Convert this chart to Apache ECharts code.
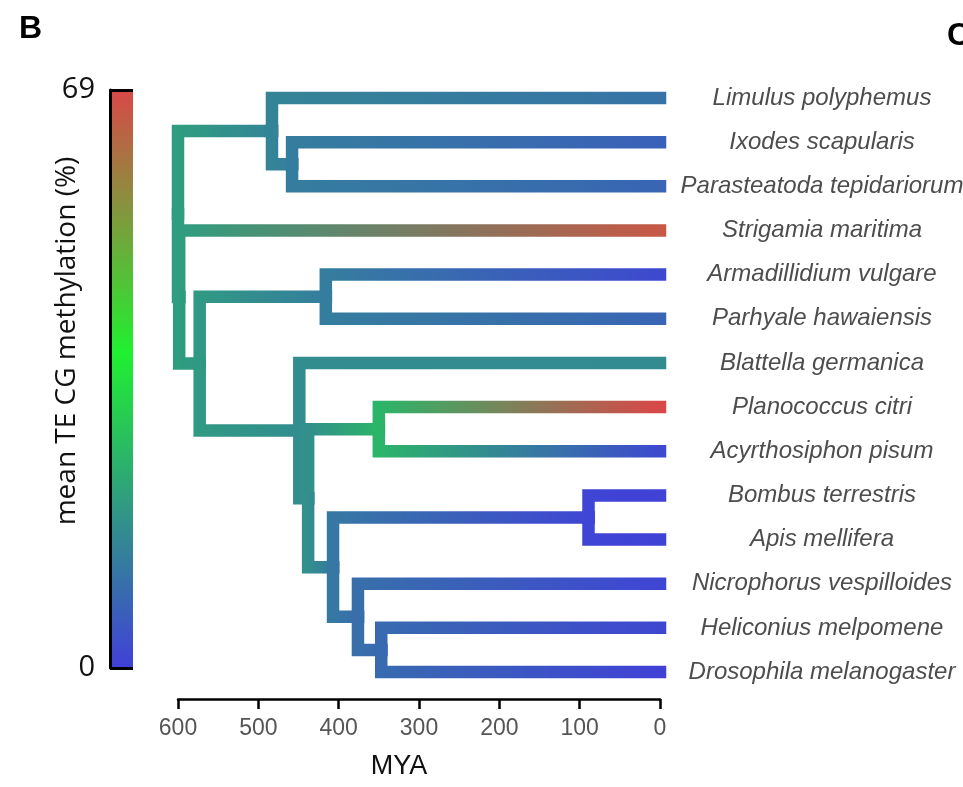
<!DOCTYPE html>
<html>
<head>
<meta charset="utf-8">
<script src="https://cdn.jsdelivr.net/npm/echarts@6/dist/echarts.min.js"></script>
<style>
  html, body {margin: 0; padding: 0; background: #fff;}
  #chart {width: 963px; height: 787px;}
</style>
</head>
<body>
<div id="chart"></div>
<script>
// tips, top to bottom
const species = [
  'Limulus polyphemus', 'Ixodes scapularis', 'Parasteatoda tepidariorum',
  'Strigamia maritima', 'Armadillidium vulgare', 'Parhyale hawaiensis',
  'Blattella germanica', 'Planococcus citri', 'Acyrthosiphon pisum',
  'Bombus terrestris', 'Apis mellifera', 'Nicrophorus vespilloides',
  'Heliconius melpomene', 'Drosophila melanogaster',
]
const tipMeth = [11, 7, 8, 66, 2, 8, 16, 69, 2, 0.5, 0.5, 1, 1.5, 0.5]

// internal nodes (MYA + inferred methylation)
const cladeNames = [
  'root', 'Chelicerata', 'Arachnida', 'Mandibulata', 'Pancrustacea', 'Crustacea',
  'Hexapoda', 'Eumetabola', 'Hemiptera', 'Holometabola', 'Hymenoptera',
  'ColeoMecopterida', 'Mecopterida',
]
const cladeAge = [600, 483, 458, 598.5, 573, 416, 449, 438, 350, 407, 89, 376, 347]
const cladeMeth = [20, 14.5, 13, 20, 19, 13, 16.5, 17, 25, 12, 1, 10, 9]
const cladeKids = [
  ['Chelicerata', 'Mandibulata'],
  ['Limulus polyphemus', 'Arachnida'],
  ['Ixodes scapularis', 'Parasteatoda tepidariorum'],
  ['Strigamia maritima', 'Pancrustacea'],
  ['Crustacea', 'Hexapoda'],
  ['Armadillidium vulgare', 'Parhyale hawaiensis'],
  ['Blattella germanica', 'Eumetabola'],
  ['Hemiptera', 'Holometabola'],
  ['Planococcus citri', 'Acyrthosiphon pisum'],
  ['Hymenoptera', 'ColeoMecopterida'],
  ['Bombus terrestris', 'Apis mellifera'],
  ['Nicrophorus vespilloides', 'Mecopterida'],
  ['Heliconius melpomene', 'Drosophila melanogaster'],
]

const ageTicks = [600, 500, 400, 300, 200, 100, 0]
const methMax = 69

// colour scale blue -> green -> red
const cmap = [[0, '#4040d8'], [0.547, '#20f030'], [1, '#d84848']]

const methColor = v => {
  const t = Math.max(0, Math.min(1, v / methMax))
  for (let i = 1; i < cmap.length; i++) {
    if (t <= cmap[i][0]) {
      const f = (t - cmap[i - 1][0]) / (cmap[i][0] - cmap[i - 1][0])
      return echarts.color.lerp(f, [cmap[i - 1][1], cmap[i][1]])
    }
  }
  return cmap[cmap.length - 1][1]
}

const place = name => {
  const i = species.indexOf(name)
  if (i >= 0) return {age: 0, row: i, meth: tipMeth[i]}
  const j = cladeNames.indexOf(name)
  const kids = cladeKids[j].map(place)
  return {age: cladeAge[j], row: kids.reduce((s, k) => s + k.row, 0) / kids.length, meth: cladeMeth[j]}
}

// one elbow per parent -> child
const edges = []
cladeNames.forEach((name, j) => {
  const p = place(name)
  cladeKids[j].forEach(k => {
    const c = place(k)
    edges.push([p.age, p.row, c.age, c.row, p.meth, c.meth])
  })
})

const renderEdge = (params, api) => {
  const p0 = api.coord([api.value(0), api.value(1)])
  const p1 = api.coord([api.value(2), api.value(3)])
  let x2 = p1[0]
  if (Math.abs(x2 - p0[0]) < 1) x2 = p0[0] + 1
  return {
    type: 'polyline',
    shape: {points: [p0, [p0[0], p1[1]], p1]},
    style: {
      fill: null,
      stroke: new echarts.graphic.LinearGradient(p0[0], 0, x2, 0, [
        {offset: 0, color: methColor(api.value(4))},
        {offset: 1, color: methColor(api.value(5))},
      ], true),
      lineWidth: 12.5,
      lineJoin: 'miter',
      lineCap: 'square',
    },
  }
}

const renderBar = (params, api) => {
  const a = api.coord([0, methMax])
  const b = api.coord([1, 0])
  return {
    type: 'rect',
    shape: {x: a[0], y: a[1], width: b[0] - a[0], height: b[1] - a[1]},
    style: {
      fill: new echarts.graphic.LinearGradient(0, 0, 0, 1,
        cmap.map(s => ({offset: 1 - s[0], color: s[1]})).reverse()),
    },
  }
}

const chart = echarts.init(document.getElementById('chart'))
chart.setOption({
  backgroundColor: '#fff',
  animation: false,
  graphic: [
    {type: 'text', left: 19, top: 13, style: {text: 'B', fontSize: 32, fontWeight: 'bold', fill: '#000', fontFamily: 'Liberation Sans'}},
    {type: 'text', left: 947, top: 20, style: {text: 'C', fontSize: 32, fontWeight: 'bold', fill: '#000', fontFamily: 'Liberation Sans'}},
    {
      type: 'text', x: 67, y: 341, rotation: Math.PI / 2,
      style: {
        text: 'mean TE CG methylation (%)', fontSize: 28, fill: '#111', fontFamily: 'Open Sans',
        align: 'center', verticalAlign: 'middle',
      },
    },
  ],
  grid: [
    {left: 178, right: 303, top: 98, bottom: 115, outerBoundsMode: 'none', containLabel: false},
    {left: 110, top: 90, width: 23, height: 578, outerBoundsMode: 'none', containLabel: false},
  ],
  xAxis: [{
    gridIndex: 0,
    type: 'value',
    min: 0,
    max: 600,
    interval: 100,
    inverse: true,
    position: 'bottom',
    offset: 27,
    name: 'MYA',
    nameLocation: 'middle',
    nameGap: 54,
    nameTextStyle: {fontSize: 27, color: '#111', fontFamily: 'Liberation Sans', padding: [0, 40, 0, 0]},
    axisLine: {onZero: false, lineStyle: {color: '#000', width: 2.5}},
    axisTick: {length: 10, lineStyle: {color: '#000', width: 2.5}},
    axisLabel: {
      fontSize: 23, color: '#555', fontFamily: 'Liberation Sans', margin: 18,
      customValues: ageTicks,
    },
    splitLine: {show: false},
  }, {
    gridIndex: 1,
    type: 'value',
    min: 0,
    max: 1,
    show: false,
  }],
  yAxis: [{
    gridIndex: 0,
    type: 'value',
    min: 0,
    max: species.length - 1,
    inverse: true,
    show: false,
  }, {
    gridIndex: 0,
    type: 'category',
    data: species,
    inverse: true,
    boundaryGap: false,
    position: 'right',
    axisLine: {show: false},
    axisTick: {show: false},
    axisLabel: {
      align: 'center',
      margin: 162,
      fontSize: 24,
      fontStyle: 'italic',
      color: '#4d4d4d',
      fontFamily: 'Liberation Sans',
    },
  }, {
    gridIndex: 1,
    type: 'value',
    min: 0,
    max: methMax,
    interval: methMax,
    position: 'left',
    z: 5,
    axisLine: {show: true, lineStyle: {color: '#000', width: 3}},
    axisTick: {show: true, inside: true, length: 23, lineStyle: {color: '#000', width: 3}},
    axisLabel: {fontSize: 29, color: '#111', fontFamily: 'Open Sans', margin: 15},
    splitLine: {show: false},
  }],
  series: [{
    type: 'custom',
    xAxisIndex: 1,
    yAxisIndex: 2,
    data: [[0, 0, 1, methMax]],
    renderItem: renderBar,
    silent: true,
  }, {
    type: 'custom',
    xAxisIndex: 0,
    yAxisIndex: 0,
    clip: false,
    data: edges,
    encode: {x: [0, 2], y: [1, 3]},
    renderItem: renderEdge,
    silent: true,
  }],
})
</script>
</body>
</html>
